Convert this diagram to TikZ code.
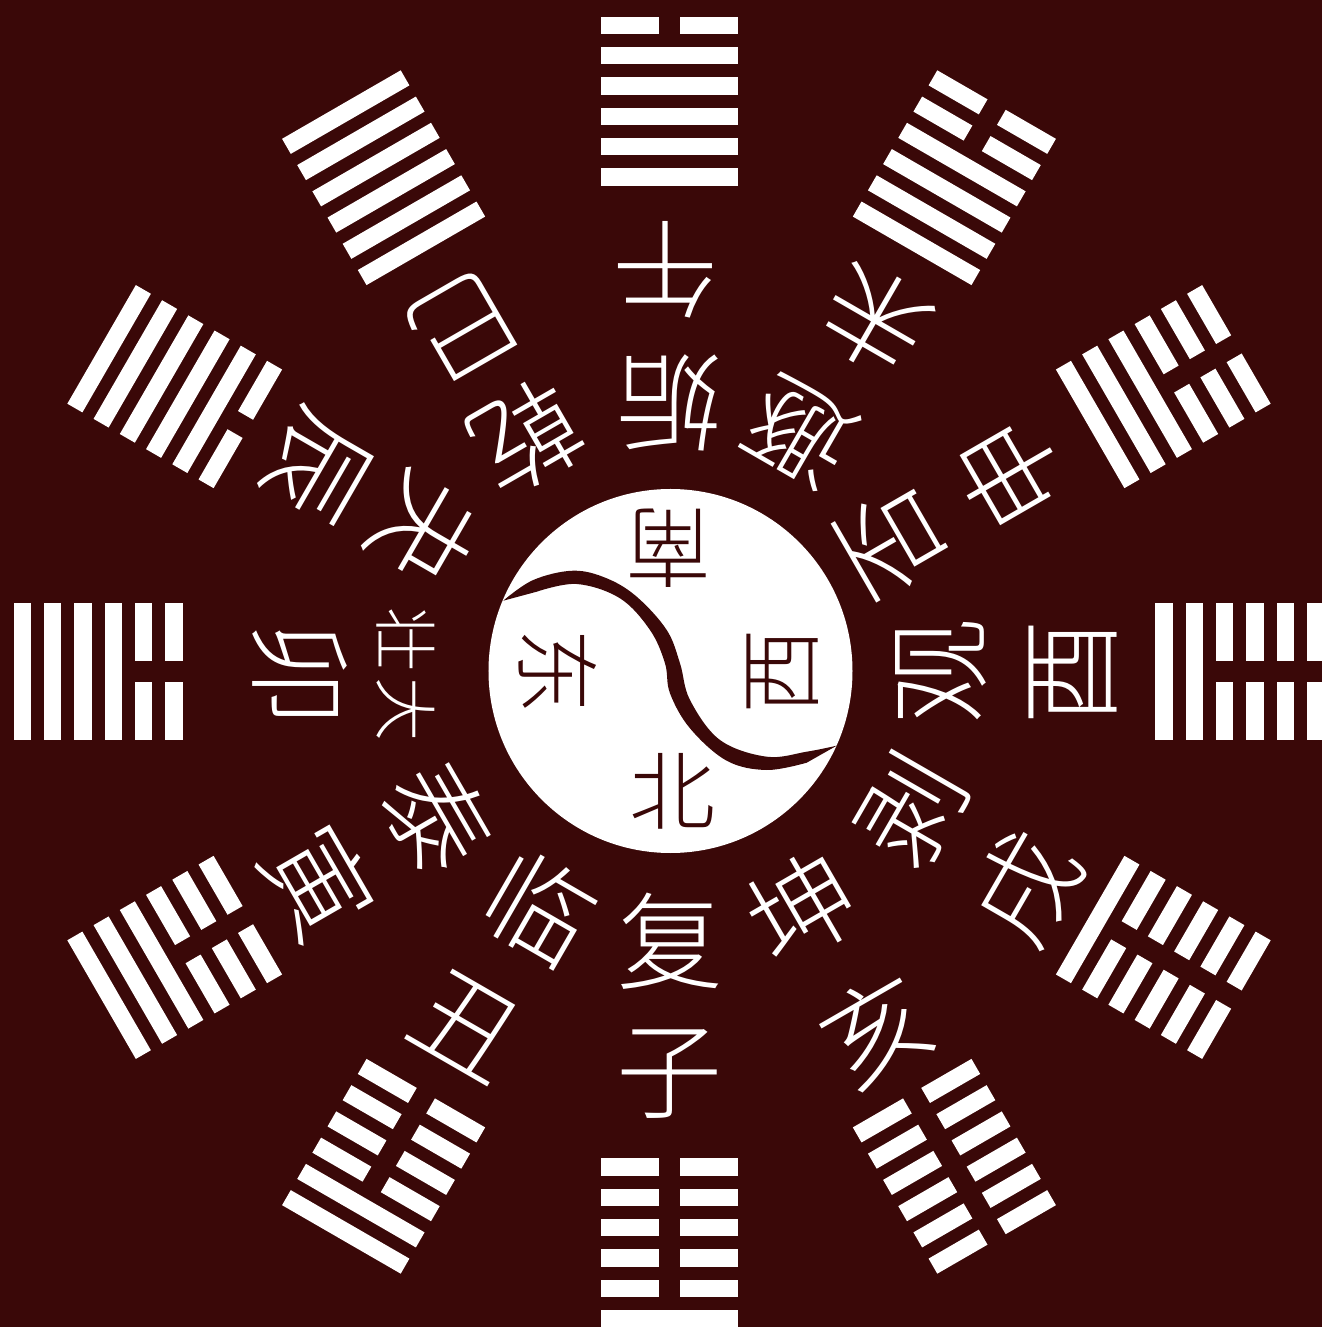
\documentclass[tikz,border=0pt]{standalone}
\usepackage{fontspec}
\newfontfamily\cjk{Noto Sans CJK SC Light}
\usetikzlibrary{positioning}
\definecolor{maroon}{HTML}{3A0808}

\begin{document}
\begin{tikzpicture}[
  x=1pt,y=1pt,
  glyph/.style={text=white,inner sep=0pt,font=\cjk\fontsize{106}{106}\selectfont},
  small glyph/.style={glyph,font=\cjk\fontsize{64}{64}\selectfont},
  centre glyph/.style={inner sep=0pt,text=maroon,font=\cjk\fontsize{86}{86}\selectfont}
]
  \useasboundingbox (-669,-655) rectangle (653,672);
  \clip (-669,-655) rectangle (653,672);
  \fill[maroon] (-669,-655) rectangle (653,672);

  % hexagrams, first entry is the outermost line
  \foreach \ang/\lines in {270/{1,0,0,0,0,0},240/{1,1,0,0,0,0},210/{1,1,1,0,0,0},180/{1,1,1,1,0,0},
      150/{1,1,1,1,1,0},120/{1,1,1,1,1,1},90/{0,1,1,1,1,1},60/{0,0,1,1,1,1},
      30/{0,0,0,1,1,1},0/{0,0,0,0,1,1},-30/{0,0,0,0,0,1},-60/{0,0,0,0,0,0}}{
    \begin{scope}[rotate=\ang-90]
      \foreach \i in {0,...,5}{
        \pgfmathtruncatemacro{\yang}{array({\lines},\i)}
        \pgfmathsetmacro{\r}{646.5-30.3*\i}
        \ifnum\yang=1
          \fill[white] (-68.5,\r-8.7) rectangle (68.5,\r+8.7);
        \else
          \fill[white] (-68.5,\r-8.7) rectangle (-10.5,\r+8.7);
          \fill[white] (10.5,\r-8.7) rectangle (68.5,\r+8.7);
        \fi
      }
    \end{scope}
  }

  % outer ring: branches
  \node[glyph,rotate=180] (wu) at (-4,402) {午};
  \node[glyph,rotate=150] (wei) at (206,352) {未};
  \node[glyph,rotate=120] (shen) at (341,198) {申};
  \node[glyph,rotate=90] (you) at (404,-1) {酉};
  \node[glyph,rotate=60] (xu) at (357,-216) {戌};
  \node[glyph,rotate=30] (hai) at (207,-358) {亥};
  \node[glyph] (zi) at (0,-402) {子};
  \node[glyph,rotate=-30] (chou) at (-202,-354) {丑};
  \node[glyph,rotate=-60] (yin) at (-350,-210) {寅};
  \node[glyph,rotate=-90] (mao) at (-369,-2) {卯};
  \node[glyph,rotate=-120] (chen) at (-352,206) {辰};
  \node[glyph,rotate=-150] (si) at (-206,346) {巳};

  % inner ring: hexagram names
  \node[glyph,rotate=180] (gou) at (0,269) {姤};
  \node[glyph,rotate=150] (dun) at (131,240) {遯};
  \node[glyph,rotate=120] (pi) at (224,131) {否};
  \node[glyph,rotate=90] (guan) at (272,0) {观};
  \node[glyph,rotate=60] (bo) at (242,-138) {剥};
  \node[glyph,rotate=30] (kun) at (133,-236) {坤};
  \node[glyph] (fu) at (1,-269) {复};
  \node[glyph,rotate=-30] (lin) at (-129,-236) {临};
  \node[glyph,rotate=-60] (tai) at (-231,-145) {泰};
  \node[small glyph,rotate=-90] (zhuang) at (-263,32) {壮};
  \node[small glyph,rotate=-90] (da) at (-263,-38) {大};
  \node[glyph,rotate=-120] (guai) at (-243,142) {夬};
  \node[glyph,rotate=-150] (qian) at (-142,235) {乾};

  % disc and its dividing curve
  \fill[white] (1.5,1) circle (182);
  \fill[maroon] plot[smooth,tension=.6] coordinates {(-165.7,71.3) (-135.7,92) (-95.7,101.3) (-62.3,93.7)
      (-32.3,75.3) (-2.3,42) (11,8.7) (21,-28) (51,-68) (97.7,-84.7) (137.7,-79.7) (167.7,-73.7)}
    -- plot[smooth,tension=.6] coordinates {(137.7,-90.7) (97.7,-98) (57.7,-88.7) (21,-56.3) (1,-21.3)
      (-4,8.7) (-19,42) (-49,73.7) (-92.3,88) (-132.3,80.3)} -- cycle;

  \node[centre glyph,rotate=180] (nan) at (-1,124) {南};
  \node[centre glyph,rotate=90] (xi) at (114,0) {西};
  \node[centre glyph] (bei) at (3,-119) {北};
  \node[centre glyph,rotate=-90] (dong) at (-111,0) {东};
\end{tikzpicture}
\end{document}
